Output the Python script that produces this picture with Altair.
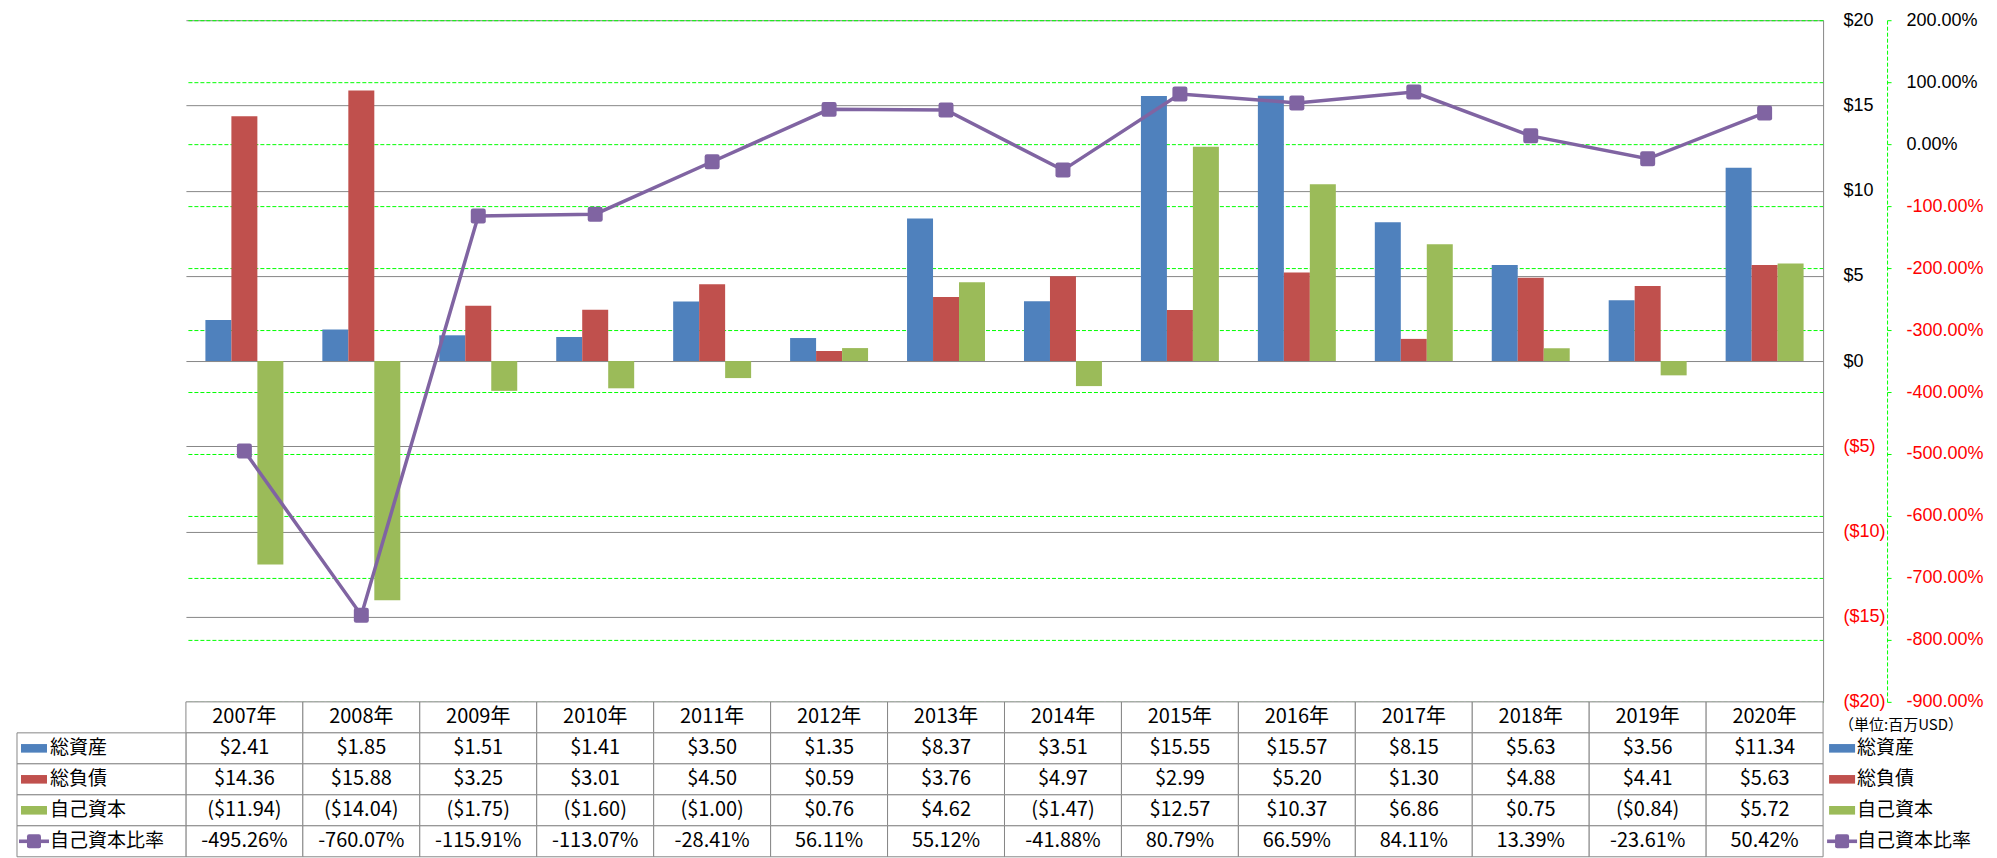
import altair as alt
import pandas as pd

# ---------------- data ----------------
years = ["2007年", "2008年", "2009年", "2010年", "2011年", "2012年", "2013年",
         "2014年", "2015年", "2016年", "2017年", "2018年", "2019年", "2020年"]
series_names = ["総資産", "総負債", "自己資本"]
ratio_name = "自己資本比率"
total_assets = [2.41, 1.85, 1.51, 1.41, 3.50, 1.35, 8.37, 3.51, 15.55, 15.57, 8.15, 5.63, 3.56, 11.34]
total_liabilities = [14.36, 15.88, 3.25, 3.01, 4.50, 0.59, 3.76, 4.97, 2.99, 5.20, 1.30, 4.88, 4.41, 5.63]
equity = [-11.94, -14.04, -1.75, -1.60, -1.00, 0.76, 4.62, -1.47, 12.57, 10.37, 6.86, 0.75, -0.84, 5.72]
equity_ratio = [-495.26, -760.07, -115.91, -113.07, -28.41, 56.11, 55.12, -41.88, 80.79, 66.59, 84.11, 13.39, -23.61, 50.42]
dollar_ticks = [-20, -15, -10, -5, 0, 5, 10, 15, 20]
percent_ticks = [-900, -800, -700, -600, -500, -400, -300, -200, -100, 0, 100, 200]
unit_label = "（単位:百万USD）"
header_key = "年度"

# ---------------- styles ----------------
bar_colors = ["#4F81BD", "#C0504D", "#9BBB59"]
line_color = "#8064A2"
grey = "#878787"
green = "#00FF00"
red = "#FF0000"
AXIS_FONT = "Liberation Sans, Arial, sans-serif"
NUM_FONT = "Noto Sans CJK JP, sans-serif"
CJK_FONT = "Noto Sans CJK JP, sans-serif"
ROUNDED = "M-0.7,-1H0.7Q1,-1,1,-0.7V0.7Q1,1,0.7,1H-0.7Q-1,1,-1,0.7V-0.7Q-1,-1,-0.7,-1Z"
BAR_SWATCH = "M-1,-0.33H1V0.33H-1Z"
LINE_SWATCH = "M-1,-0.12H1V0.12H-1Z"
W = 1638
H_PLOT = 682
H_TABLE = 155

# ---------------- tables ----------------
bar_records = []
for name, vals in zip(series_names, [total_assets, total_liabilities, equity]):
    for yr, v in zip(years, vals):
        bar_records.append({"year": yr, "series": name, "value": v})
bars_df = pd.DataFrame(bar_records)
line_df = pd.DataFrame({"year": years, "series": ratio_name, "ratio": equity_ratio})

row_keys = [header_key] + series_names + [ratio_name]
cell_records = [{"year": yr, "row": header_key, "kind": "header", "value": 0.0} for yr in years]
for name, vals in zip(series_names, [total_assets, total_liabilities, equity]):
    for yr, v in zip(years, vals):
        cell_records.append({"year": yr, "row": name, "kind": "money", "value": v})
for yr, v in zip(years, equity_ratio):
    cell_records.append({"year": yr, "row": ratio_name, "kind": "pct", "value": v})
table_df = pd.DataFrame(cell_records)
label_df = pd.DataFrame({"row": series_names + [ratio_name]})
bar_label_df = pd.DataFrame({"row": series_names})
ratio_label_df = pd.DataFrame({"row": [ratio_name]})
unit_df = pd.DataFrame({"row": [header_key], "label": [unit_label]})

color_scale = alt.Scale(domain=series_names + [ratio_name], range=bar_colors + [line_color])

money_expr = ("(datum.value < 0 ? '($' + format(-datum.value, '.2f') + ')' "
              ": '$' + format(datum.value, '.2f'))")
pct_expr = "((datum.value < 0 ? '-' : '') + format(abs(datum.value), '.2f') + '%')"
label_expr = ("datum.kind == 'header' ? datum.year : (datum.kind == 'pct' ? "
              + pct_expr + " : " + money_expr + ")")

neg_red = {"condition": {"test": "datum.value < 0", "value": red}, "value": "black"}

# ---------------- top chart ----------------
x_top = alt.X("year:N", sort=years,
              scale=alt.Scale(domain=years, paddingInner=0, paddingOuter=0), axis=None)

bars = alt.Chart(bars_df).mark_bar().encode(
    x=x_top,
    xOffset=alt.XOffset("series:N", sort=series_names,
                        scale=alt.Scale(domain=series_names, paddingInner=0, paddingOuter=0.75)),
    y=alt.Y("value:Q",
            scale=alt.Scale(domain=[-20, 20], nice=False),
            axis=alt.Axis(orient="right", values=dollar_ticks, title=None,
                          labelExpr="datum.value < 0 ? '($' + format(-datum.value, 'd') + ')' : '$' + format(datum.value, 'd')",
                          labelAlign="left", labelBaseline="middle", labelPadding=20,
                          ticks=False, tickSize=0,
                          domain=True, domainColor=grey, domainWidth=1,
                          grid=True, gridColor=grey, gridWidth=1,
                          labelFont=AXIS_FONT, labelFontSize=18, labelColor=neg_red)),
    color=alt.Color("series:N", scale=color_scale, legend=None),
)

line = alt.Chart(line_df).mark_line(
    color=line_color, strokeWidth=3.5,
    point=alt.OverlayMarkDef(shape=ROUNDED, size=225, filled=True, color=line_color, opacity=1),
).encode(
    x=x_top,
    y=alt.Y("ratio:Q",
            scale=alt.Scale(domain=[-900, 200], nice=False),
            axis=alt.Axis(orient="right", offset=64, values=percent_ticks, title=None,
                          labelExpr="(datum.value < 0 ? '-' : '') + format(abs(datum.value), '.2f') + '%'",
                          labelAlign="left", labelBaseline="middle", labelPadding=15,
                          ticks=True, tickSize=4, tickColor=green, tickWidth=1,
                          domain=True, domainColor=green, domainDash=[4, 2], domainWidth=1,
                          grid=True, gridColor=green, gridDash=[4, 2], gridWidth=1,
                          labelFont=AXIS_FONT, labelFontSize=18, labelColor=neg_red)),
)

top = alt.layer(bars, line).resolve_scale(y="independent").properties(width=W, height=H_PLOT)

# ---------------- data table ----------------
x_tab = alt.X("year:N", sort=years,
              scale=alt.Scale(domain=years, paddingInner=0, paddingOuter=0), axis=None)
y_tab = alt.Y("row:N", sort=row_keys,
              scale=alt.Scale(domain=row_keys, paddingInner=0, paddingOuter=0), axis=None)

cells = alt.Chart(table_df).mark_rect(fill="white", stroke=grey, strokeWidth=1).encode(x=x_tab, y=y_tab)
cell_text = alt.Chart(table_df).transform_calculate(label=label_expr).mark_text(
    font=NUM_FONT, fontSize=20, color="black").encode(x=x_tab, y=y_tab, text="label:N")

label_cells = alt.Chart(label_df).mark_rect(fill="white", stroke=grey, strokeWidth=1).encode(
    x=alt.value(-169), x2=alt.value(0), y=y_tab)


def key_layers(x_sw, x_txt):
    sw = alt.Chart(bar_label_df).mark_point(shape=BAR_SWATCH, size=676, filled=True, opacity=1).encode(
        x=alt.value(x_sw), y=y_tab, color=alt.Color("row:N", scale=color_scale, legend=None))
    ln = alt.Chart(ratio_label_df).mark_point(shape=LINE_SWATCH, size=900, filled=True, opacity=1,
                                              color=line_color).encode(x=alt.value(x_sw), y=y_tab)
    mk = alt.Chart(ratio_label_df).mark_point(shape=ROUNDED, size=196, filled=True, opacity=1,
                                              color=line_color).encode(x=alt.value(x_sw), y=y_tab)
    tx = alt.Chart(label_df).mark_text(align="left", font=CJK_FONT, fontSize=19, color="black").encode(
        x=alt.value(x_txt), y=y_tab, text="row:N")
    return [sw, ln, mk, tx]


unit_text = alt.Chart(unit_df).mark_text(align="left", font=CJK_FONT, fontSize=15, dy=8,
                                         color="black").encode(x=alt.value(1654), y=y_tab, text="label:N")

table = alt.layer(cells, cell_text, label_cells, *key_layers(-152, -136), *key_layers(1657, 1672),
                  unit_text).properties(width=W, height=H_TABLE)

chart = alt.vconcat(top, table, spacing=0, bounds="flush").properties(
    padding={"left": 8, "top": 3, "right": 5, "bottom": 0}
).configure_view(strokeWidth=0)

chart.save("out.html", embed_options={"renderer": "svg", "actions": False})
